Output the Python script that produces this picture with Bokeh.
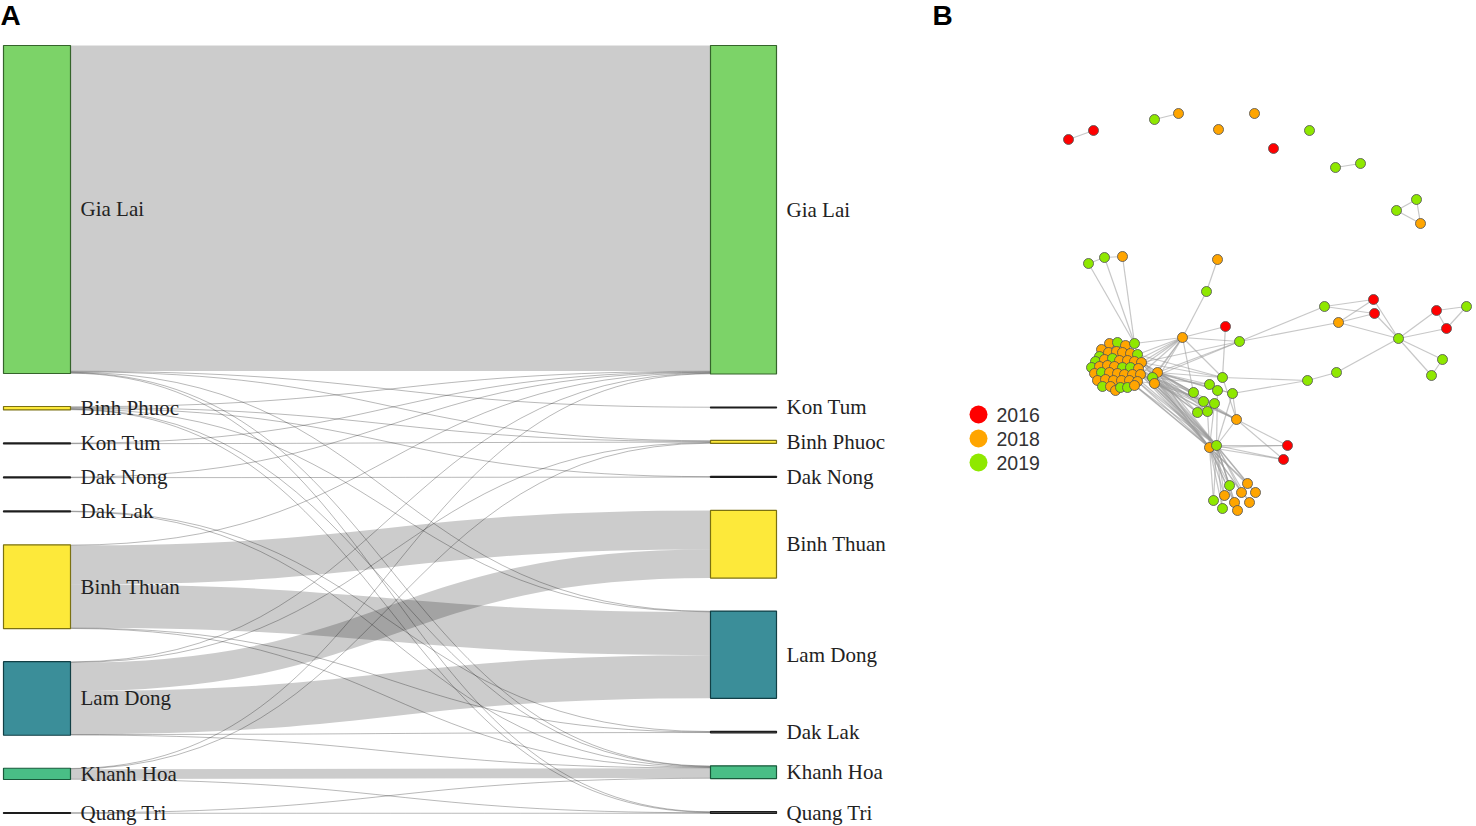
import numpy as np
from bokeh.plotting import figure
from bokeh.models import Range1d, ColumnDataSource
from bokeh.embed import file_html
from bokeh.resources import INLINE
from bokeh.core.properties import value

# ---------------- Panel A : Sankey data ----------------
left_nodes = ["Gia Lai", "Binh Phuoc", "Kon Tum", "Dak Nong", "Dak Lak",
              "Binh Thuan", "Lam Dong", "Khanh Hoa", "Quang Tri"]
right_nodes = ["Gia Lai", "Kon Tum", "Binh Phuoc", "Dak Nong", "Binh Thuan",
               "Lam Dong", "Dak Lak", "Khanh Hoa", "Quang Tri"]
node_color = {"Gia Lai": "#6ECE58", "Binh Phuoc": "#FDE725", "Kon Tum": "#3C3C3C",
              "Dak Nong": "#3C3C3C", "Dak Lak": "#3C3C3C", "Binh Thuan": "#FDE725",
              "Lam Dong": "#26828E", "Khanh Hoa": "#35B779", "Quang Tri": "#3C3C3C"}

flow_src = ["Gia Lai", "Gia Lai", "Gia Lai", "Gia Lai", "Gia Lai", "Gia Lai",
            "Binh Phuoc", "Binh Phuoc", "Binh Phuoc", "Binh Phuoc", "Binh Phuoc", "Binh Phuoc",
            "Kon Tum", "Kon Tum", "Dak Nong", "Dak Nong", "Dak Lak", "Dak Lak",
            "Binh Thuan", "Binh Thuan", "Binh Thuan", "Binh Thuan", "Binh Thuan",
            "Lam Dong", "Lam Dong", "Lam Dong", "Lam Dong", "Lam Dong", "Lam Dong",
            "Khanh Hoa", "Khanh Hoa", "Khanh Hoa", "Khanh Hoa",
            "Quang Tri", "Quang Tri"]
flow_tgt = ["Gia Lai", "Kon Tum", "Binh Phuoc", "Lam Dong", "Khanh Hoa", "Quang Tri",
            "Gia Lai", "Binh Phuoc", "Dak Nong", "Lam Dong", "Khanh Hoa", "Quang Tri",
            "Gia Lai", "Binh Phuoc", "Gia Lai", "Dak Nong", "Dak Lak", "Khanh Hoa",
            "Gia Lai", "Binh Thuan", "Lam Dong", "Dak Lak", "Khanh Hoa",
            "Gia Lai", "Binh Phuoc", "Binh Thuan", "Lam Dong", "Dak Lak", "Khanh Hoa",
            "Gia Lai", "Binh Phuoc", "Khanh Hoa", "Quang Tri",
            "Quang Tri", "Khanh Hoa"]
flow_val = [664, 1, 1, 1, 1, 1,
            1, 2, 1, 1, 1, 1,
            1, 1, 1, 1, 1, 1,
            1, 80, 88, 1, 1,
            1, 1, 58, 88, 1, 1,
            1, 1, 20, 1,
            1, 1]

# ---------------- Panel B : network data ----------------
net_id = ["t0", "t1", "t2", "t3", "t4", "t5", "t6", "t7", "t8", "t9", "t10", "t11", "t12",
          "a0", "a1", "a2", "b0", "b1", "h1", "r1", "g1",
          "u0", "u1", "u2", "u3", "h2", "v0", "v1", "v2", "w0", "w1", "x0", "x1",
          "m0", "m1", "m2", "m3", "m4", "m5", "m6", "m7", "m8",
          "o1", "z0", "z1", "r2", "r3",
          "q0", "q1", "q2", "q3", "q4", "q5", "q6", "q7", "q8", "q9",
          "n0", "n1", "n2",
          "c0", "c1", "c2", "c3", "c4", "c5", "c6", "c7", "c8", "c9", "c10",
          "c11", "c12", "c13", "c14", "c15", "c16", "c17", "c18", "c19", "c20",
          "c21", "c22", "c23", "c24", "c25", "c26", "c27", "c28", "c29", "c30",
          "c31", "c32", "c33", "c34", "c35", "c36", "c37", "c38", "c39", "c40",
          "c41", "c42", "c43"]
net_x = [1068, 1093, 1154, 1178, 1218, 1254, 1273, 1309, 1335, 1360, 1416, 1396, 1420,
         1088, 1104, 1122, 1217, 1206, 1182, 1225, 1239,
         1324, 1373, 1374, 1338, 1398, 1436, 1466, 1446, 1442, 1431, 1336, 1307,
         1222, 1209, 1217, 1193, 1232, 1203, 1214, 1197, 1207,
         1236, 1209, 1216, 1287, 1283,
         1229, 1247, 1241, 1255, 1224, 1213, 1234, 1249, 1222, 1237,
         1157, 1152, 1154,
         1109, 1117, 1125, 1134, 1101, 1099, 1108, 1116, 1122, 1130, 1137,
         1095, 1104, 1112, 1119, 1127, 1134, 1141, 1091, 1099, 1107,
         1114, 1122, 1130, 1138, 1094, 1101, 1109, 1117, 1124, 1132,
         1140, 1097, 1105, 1113, 1121, 1129, 1137, 1102, 1110, 1115,
         1120, 1127, 1134]
net_y = [139, 130, 119, 113, 129, 113, 148, 130, 167, 163, 199, 210, 223,
         263, 257, 256, 259, 291, 337, 326, 341,
         306, 299, 313, 322, 338, 310, 306, 328, 359, 375, 372, 380,
         377, 384, 390, 392, 393, 401, 403, 412, 411,
         419, 447, 445, 445, 459,
         485, 483, 492, 492, 495, 500, 502, 502, 508, 510,
         372, 377, 383,
         343, 342, 345, 343, 349, 356, 352, 351, 352, 353, 354,
         361, 359, 358, 360, 360, 361, 362, 367, 366, 365,
         366, 367, 367, 368, 373, 372, 372, 373, 374, 374,
         374, 380, 379, 380, 380, 380, 381, 386, 386, 390,
         387, 387, 385]
net_year = ["2016", "2016", "2019", "2018", "2018", "2018", "2016", "2019", "2019", "2019", "2019", "2019", "2018",
            "2019", "2019", "2018", "2018", "2019", "2018", "2016", "2019",
            "2019", "2016", "2016", "2018", "2019", "2016", "2019", "2016", "2019", "2019", "2019", "2019",
            "2019", "2019", "2019", "2019", "2019", "2019", "2019", "2019", "2019",
            "2018", "2018", "2019", "2016", "2016",
            "2019", "2018", "2018", "2018", "2018", "2019", "2018", "2018", "2019", "2018",
            "2018", "2019", "2018",
            "2018", "2019", "2018", "2019", "2018", "2019", "2018", "2018", "2018", "2018", "2019",
            "2019", "2018", "2019", "2018", "2018", "2018", "2018", "2019", "2018", "2018",
            "2018", "2019", "2019", "2018", "2018", "2019", "2018", "2018", "2018", "2018",
            "2018", "2018", "2018", "2018", "2018", "2018", "2018", "2019", "2018", "2018",
            "2019", "2019", "2018"]
net_edges = [("t0", "t1"), ("t2", "t3"), ("t8", "t9"), ("t10", "t11"), ("t11", "t12"), ("t10", "t12"),
             ("a0", "a1"), ("a1", "a2"), ("a0", "c3"), ("a1", "c3"), ("a2", "c3"),
             ("b0", "b1"), ("b1", "h1"),
             ("h1", "r1"), ("h1", "g1"), ("h1", "m0"), ("h1", "m3"), ("r1", "m0"),
             ("h1", "c3"), ("h1", "c10"), ("h1", "c16"), ("h1", "c17"), ("h1", "c24"), ("h1", "c31"),
             ("h1", "n0"), ("h1", "n1"), ("h1", "n2"),
             ("g1", "n0"), ("g1", "n1"), ("g1", "c17"), ("g1", "u0"), ("g1", "u3"),
             ("u0", "u1"), ("u0", "u2"), ("u3", "u1"), ("u3", "u2"), ("u1", "h2"), ("u2", "h2"), ("u3", "h2"),
             ("h2", "v0"), ("h2", "v2"), ("v0", "v1"), ("v0", "v2"), ("v1", "v2"),
             ("h2", "w0"), ("h2", "w1"), ("w0", "w1"),
             ("h2", "x0"), ("x0", "x1"), ("x1", "m0"), ("x1", "m4"),
             ("z0", "r2"), ("z0", "r3"), ("z1", "r2"), ("z1", "r3"), ("o1", "r2"), ("o1", "r3"),
             ("m4", "o1"), ("m0", "o1"), ("m2", "z1"), ("m4", "z1"), ("m6", "z0"), ("m8", "z0"), ("o1", "z1"),
             ("n0", "m0"), ("n0", "m1"), ("n0", "m2"), ("n0", "m3"), ("n0", "m4"), ("n0", "m5"),
             ("n0", "m6"), ("n0", "m7"), ("n0", "m8"),
             ("n1", "m1"), ("n1", "m3"), ("n1", "m5"), ("n1", "m7"), ("n2", "m6"), ("n2", "m8"),
             ("c17", "m0"), ("c17", "m3"), ("c24", "m4"), ("c24", "m7"), ("c31", "m8"), ("c31", "m5"), ("c10", "m0"),
             ("n0", "z0"), ("n1", "z0"), ("n2", "z0"), ("n0", "z1"), ("n1", "z1"), ("n2", "z1"),
             ("c10", "z0"), ("c17", "z0"), ("c24", "z0"), ("c31", "z0"), ("c37", "z0"), ("c43", "z0"), ("c36", "z0"),
             ("c10", "z1"), ("c17", "z1"), ("c24", "z1"), ("c31", "z1"), ("c37", "z1"), ("c43", "z1"), ("c30", "z1"),
             ("n0", "o1"), ("n1", "o1"), ("n2", "o1"), ("c31", "o1"), ("c24", "o1"),
             ("n0", "c17"), ("n1", "c24"), ("n2", "c31"), ("n2", "c37"),
             ("q0", "z0"), ("q1", "z0"), ("q2", "z0"), ("q3", "z0"), ("q4", "z0"),
             ("q5", "z0"), ("q6", "z0"), ("q7", "z0"), ("q8", "z0"), ("q9", "z0"),
             ("q0", "z1"), ("q1", "z1"), ("q2", "z1"), ("q3", "z1"), ("q4", "z1"),
             ("q5", "z1"), ("q6", "z1"), ("q7", "z1"), ("q8", "z1"), ("q9", "z1")]
year_color = {"2016": "#FF0000", "2018": "#FFA500", "2019": "#8FE800"}
legend_years = ["2016", "2018", "2019"]

# ---------------- figure ----------------
W, H = 1476, 826
p = figure(width=W, height=H, x_range=Range1d(0, W), y_range=Range1d(H, 0),
           output_backend="svg", toolbar_location=None, min_border=0,
           x_axis_type=None, y_axis_type=None)
p.grid.visible = False
p.outline_line_color = None
p.background_fill_color = "white"

# ---- Sankey layout ----
TOP, BOTTOM, PAD = 45.0, 813.0, 33.0
XL0, XL1, XR0, XR1 = 3.0, 70.0, 710.0, 776.0
totL = {n: 0.0 for n in left_nodes}
totR = {n: 0.0 for n in right_nodes}
for s, t, v in zip(flow_src, flow_tgt, flow_val):
    totL[s] += v
    totR[t] += v
ky = (BOTTOM - TOP - PAD * (len(left_nodes) - 1)) / max(sum(totL.values()), sum(totR.values()))
yL, yR = {}, {}
y = TOP
for n in left_nodes:
    yL[n] = y
    y += totL[n] * ky + PAD
y = TOP
for n in right_nodes:
    yR[n] = y
    y += totR[n] * ky + PAD

idx = list(range(len(flow_val)))
offS = {n: 0.0 for n in left_nodes}
offT = {n: 0.0 for n in right_nodes}
ys = [0.0] * len(idx)
yt = [0.0] * len(idx)
for i in sorted(idx, key=lambda i: (left_nodes.index(flow_src[i]), yR[flow_tgt[i]])):
    w = flow_val[i] * ky
    ys[i] = yL[flow_src[i]] + offS[flow_src[i]] + w / 2
    offS[flow_src[i]] += w
for i in sorted(idx, key=lambda i: (right_nodes.index(flow_tgt[i]), yL[flow_src[i]])):
    w = flow_val[i] * ky
    yt[i] = yR[flow_tgt[i]] + offT[flow_tgt[i]] + w / 2
    offT[flow_tgt[i]] += w

xm = (XL1 + XR0) / 2
link_src = ColumnDataSource(dict(
    x0=[XL1] * len(idx), y0=ys, x1=[XR0] * len(idx), y1=yt,
    cx0=[xm] * len(idx), cy0=ys, cx1=[xm] * len(idx), cy1=yt,
    lw=[max(1.0, v * ky) for v in flow_val],
    la=[0.2 if v * ky >= 1 else 0.28 for v in flow_val]))
p.bezier(x0="x0", y0="y0", x1="x1", y1="y1", cx0="cx0", cy0="cy0", cx1="cx1", cy1="cy1",
         source=link_src, line_color="black", line_alpha="la", line_width="lw")


def darker(hexc, k=0.49):
    r, g, b = int(hexc[1:3], 16), int(hexc[3:5], 16), int(hexc[5:7], 16)
    return "#%02x%02x%02x" % (int(r * k), int(g * k), int(b * k))


def draw_nodes(names, tops, tots, x0, x1):
    src = ColumnDataSource(dict(
        left=[x0] * len(names), right=[x1] * len(names),
        top=[tops[n] for n in names],
        bottom=[tops[n] + max(tots[n] * ky, 1.0) for n in names],
        fill=[node_color[n] for n in names],
        line=[darker(node_color[n]) for n in names],
        lab=names, lx=[x1 + 10] * len(names),
        ly=[tops[n] + max(tots[n] * ky, 1.0) / 2 for n in names]))
    p.quad(left="left", right="right", top="top", bottom="bottom", source=src,
           fill_color="fill", fill_alpha=0.9, line_color="line", line_width=1.2)
    p.text(x="lx", y="ly", text="lab", source=src, text_font=value("Liberation Serif"),
           text_font_size=value("21px"), text_baseline="middle", text_align="left",
           text_color="#222222")


draw_nodes(left_nodes, yL, totL, XL0, XL1)
draw_nodes(right_nodes, yR, totR, XR0, XR1)

# ---- Network ----
pos = {k: (x, yy) for k, x, yy in zip(net_id, net_x, net_y)}
p.segment(x0=[pos[a][0] for a, b in net_edges], y0=[pos[a][1] for a, b in net_edges],
          x1=[pos[b][0] for a, b in net_edges], y1=[pos[b][1] for a, b in net_edges],
          line_color="#999999", line_alpha=0.55, line_width=1.2)
p.scatter(x=net_x, y=net_y, size=10, fill_color=[year_color[yy] for yy in net_year],
          line_color="#555555", line_width=1, line_alpha=0.85)

# legend
leg_x, leg_y0, leg_dy = 978, 414, 24
p.scatter(x=[leg_x] * 3, y=[leg_y0 + i * leg_dy for i in range(3)], size=18,
          fill_color=[year_color[yy] for yy in legend_years], line_color=None)
p.text(x=[leg_x + 18] * 3, y=[leg_y0 + i * leg_dy for i in range(3)], text=legend_years,
       text_font=value("Liberation Sans"), text_font_size=value("19.5px"),
       text_baseline="middle", text_color="#333333")

# panel letters
p.text(x=[0, 932], y=[15, 15], text=["A", "B"], text_font=value("Liberation Sans"),
       text_font_size=value("28px"), text_font_style="bold", text_baseline="middle",
       text_color="black")

open("out.html", "w").write(file_html(p, INLINE))
